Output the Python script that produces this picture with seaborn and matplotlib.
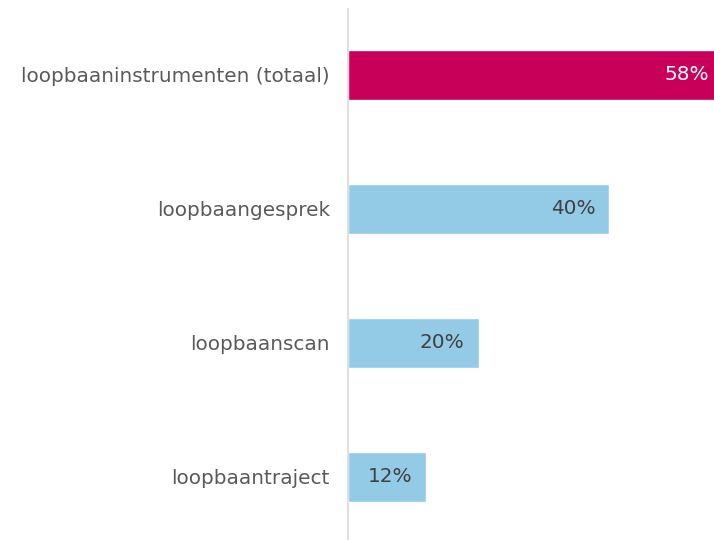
import matplotlib
matplotlib.use('Agg')
import matplotlib.pyplot as plt
import seaborn as sns
import pandas as pd

# Data
categories = ['loopbaaninstrumenten (totaal)', 'loopbaangesprek', 'loopbaanscan', 'loopbaantraject']
values = [58, 40, 20, 12]
bar_colors = ['#C8005A', '#93CBE7', '#93CBE7', '#93CBE7']
label_colors = ['white', '#404040', '#404040', '#404040']

sns.set_theme(style='white')
plt.rcParams['font.family'] = ['DejaVu Sans']

df = pd.DataFrame({'category': categories, 'value': values})

fig = plt.figure(figsize=(7.14, 5.40), dpi=100)
ax = fig.add_axes([348 / 714, 0, 1 - 348 / 714, 531 / 540])

sns.barplot(data=df, x='value', y='category', hue='category',
            palette=bar_colors, legend=False, width=0.37, ax=ax,
            saturation=1)

ax.set_xlim(0, 56.0)
ax.set_ylim(3.47, -0.49)
ax.set_xlabel('')
ax.set_ylabel('')
ax.set_xticks([])

for s in ['top', 'right', 'bottom']:
    ax.spines[s].set_visible(False)
ax.spines['left'].set_color('#D9D9D9')
ax.spines['left'].set_linewidth(1.2)

ax.tick_params(axis='y', length=0, pad=13, labelsize=14.4, labelcolor='#595959')

# value labels inside the bars
for i, v in enumerate(values):
    xpos = min(v, 56.0)
    ax.annotate(f'{v}%', xy=(xpos, i), xytext=(-14 if v < 56 else -5, 0),
                textcoords='offset pixels', ha='right', va='center',
                fontsize=14.4, color=label_colors[i])

fig.savefig('out.png', dpi=100, facecolor='white')
